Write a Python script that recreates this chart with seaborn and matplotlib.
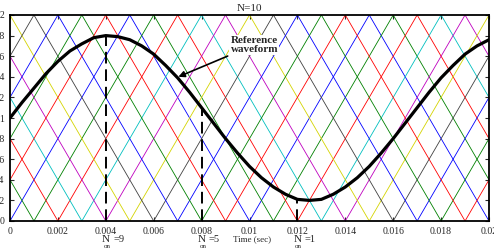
import matplotlib
matplotlib.use('Agg')
from matplotlib import pyplot as plt
from matplotlib import transforms

import pandas as pd

import seaborn as sns


# ten phase-shifted triangular carriers (vertex times in s, levels)
carrier_names = ['c1', 'c2', 'c3', 'c4', 'c5', 'c6', 'c7', 'c8', 'c9', 'c10']
carrier_colors = ['#0000ff', '#008000', '#ff0000', '#00bfbf', '#bf00bf',
                  '#d4d400', '#404040', '#0000ff', '#008000', '#ff0000']
carrier_times = [
    [0, 0.005, 0.010, 0.015, 0.020],
    [0, 0.001, 0.006, 0.011, 0.016, 0.020],
    [0, 0.002, 0.007, 0.012, 0.017, 0.020],
    [0, 0.003, 0.008, 0.013, 0.018, 0.020],
    [0, 0.004, 0.009, 0.014, 0.019, 0.020],
    [0, 0.005, 0.010, 0.015, 0.020],
    [0, 0.001, 0.006, 0.011, 0.016, 0.020],
    [0, 0.002, 0.007, 0.012, 0.017, 0.020],
    [0, 0.003, 0.008, 0.013, 0.018, 0.020],
    [0, 0.004, 0.009, 0.014, 0.019, 0.020],
]
carrier_levels = [
    [0, 2, 0, 2, 0],
    [0.4, 0, 2, 0, 2, 0.4],
    [0.8, 0, 2, 0, 2, 0.8],
    [1.2, 0, 2, 0, 2, 1.2],
    [1.6, 0, 2, 0, 2, 1.6],
    [2, 0, 2, 0, 2],
    [1.6, 2, 0, 2, 0, 1.6],
    [1.2, 2, 0, 2, 0, 1.2],
    [0.8, 2, 0, 2, 0, 0.8],
    [0.4, 2, 0, 2, 0, 0.4],
]

# reference waveform
ref_time = [0.0000, 0.0005, 0.0010, 0.0015, 0.0020, 0.0025, 0.0030, 0.0035,
            0.0040, 0.0045, 0.0050, 0.0055, 0.0060, 0.0065, 0.0070, 0.0075,
            0.0080, 0.0085, 0.0090, 0.0095, 0.0100, 0.0105, 0.0110, 0.0115,
            0.0120, 0.0125, 0.0130, 0.0135, 0.0140, 0.0145, 0.0150, 0.0155,
            0.0160, 0.0165, 0.0170, 0.0175, 0.0180, 0.0185, 0.0190, 0.0195,
            0.0200]
ref_level = [1.00, 1.15, 1.29, 1.43, 1.55, 1.65, 1.72, 1.78, 1.80, 1.79,
             1.76, 1.70, 1.62, 1.51, 1.39, 1.25, 1.10, 0.95, 0.80, 0.66,
             0.53, 0.42, 0.33, 0.26, 0.21, 0.20, 0.21, 0.26, 0.33, 0.42,
             0.53, 0.66, 0.80, 0.95, 1.10, 1.25, 1.39, 1.51, 1.62, 1.70,
             1.76]

# marked instants and number of carriers switched on
n_on_time = [0.004, 0.008, 0.012]
n_on_level = [1.80, 1.10, 0.21]
n_on_count = [9, 5, 1]

x_ticks = [0, 0.002, 0.004, 0.006, 0.008, 0.010, 0.012, 0.014, 0.016,
           0.018, 0.020]
y_ticks = [0, 0.2, 0.4, 0.6, 0.8, 1.0, 1.2, 1.4, 1.6, 1.8, 2.0]


sns.set_theme(style='white')
plt.rcParams['font.family'] = ['Liberation Serif', 'DejaVu Serif']

fig = plt.figure(figsize=(4.94, 2.5), dpi=100)
ax = fig.add_axes([10 / 494, 29 / 250, 479 / 494, 206 / 250])

rows = []
for name, ts, ls in zip(carrier_names, carrier_times, carrier_levels):
    for t, v in zip(ts, ls):
        rows.append({'carrier': name, 'time': t, 'level': v})
carriers_df = pd.DataFrame(rows)

sns.lineplot(data=carriers_df, x='time', y='level', hue='carrier',
             palette=dict(zip(carrier_names, carrier_colors)),
             estimator=None, sort=False, lw=0.6, legend=False, ax=ax)

sns.lineplot(x=ref_time, y=ref_level, color='black', lw=2.3,
             estimator=None, sort=False, ax=ax, zorder=5)

ax.vlines(n_on_time, 0, n_on_level, colors='black', lw=1.4,
          linestyles=(0, (6, 3)), zorder=4)

ax.set_xlim(0, 0.02)
ax.set_ylim(0, 2)
ax.set_xticks(x_ticks)
ax.set_yticks(y_ticks)
ax.set_xticklabels(['%g' % v for v in x_ticks])
ax.set_yticklabels(['%g' % v for v in y_ticks])
ax.tick_params(direction='in', length=3, width=0.8, labelsize=7,
               top=True, right=True, bottom=True, left=True, pad=4)
for s in ax.spines.values():
    s.set_color('black')
    s.set_linewidth(1.3)
ax.set_xlabel('')
ax.set_ylabel('')
ax.set_title('N=10', fontsize=8, pad=3)

ax.annotate('Reference\nwaveform', xy=(0.00703, 1.40),
            xytext=(0.0102, 1.71), ha='center', va='center',
            fontsize=8, fontweight='bold', linespacing=1.0,
            bbox=dict(boxstyle='square,pad=0.1', fc='white', ec='none'),
            arrowprops=dict(arrowstyle='-|>', color='black', lw=1.2,
                            mutation_scale=9, shrinkA=2, shrinkB=0),
            zorder=6)

# N_on labels below the axis
trans = transforms.blended_transform_factory(ax.transData, ax.transAxes)
for t, n in zip(n_on_time, n_on_count):
    ax.text(t, -0.09, 'N', transform=trans, ha='center', va='center',
            fontsize=8)
    ax.text(t + 0.00005, -0.125, 'on', transform=trans, ha='center',
            va='center', fontsize=5)
    ax.text(t + 0.0003, -0.09, '=%d' % n, transform=trans, ha='left',
            va='center', fontsize=7.5)

ax.text(0.0101, -0.09, 'Time (sec)', transform=trans, ha='center',
        va='center', fontsize=6.5)

fig.savefig('out.png', dpi=100)
plt.close(fig)
